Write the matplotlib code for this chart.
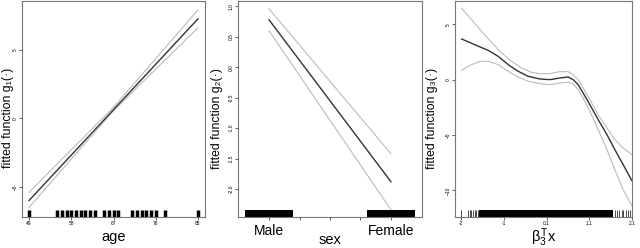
import numpy as np
import matplotlib.pyplot as plt

plt.rcParams['font.family'] = ['Liberation Sans', 'DejaVu Sans']
plt.rcParams['mathtext.fontset'] = 'custom'
plt.rcParams['mathtext.rm'] = 'Liberation Sans'
plt.rcParams['mathtext.it'] = 'Liberation Sans'

# panel 1: age
age_x = [49, 85]
age_fit = [-6.0, 7.25]
age_band_x = [49, 67, 85]
age_upper = [-5.4, 0.8, 7.9]
age_lower = [-6.5, 0.55, 6.6]
age_ticks = [49, 58, 67, 76, 85]
age_rug = [49, 55, 56, 57, 58, 59, 60, 61, 62, 63, 65, 66, 67, 68,
           71, 72, 73, 74, 75, 76, 78, 85]

# panel 2: sex (Male = 1, Female = 2)
sex_x = [1, 2]
sex_fit = [0.78, -1.88]
sex_upper = [0.96, -1.42]
sex_lower = [0.6, -2.34]
sex_ticks = [1, 1.25, 1.5, 1.75, 2]
sex_ticklabels = ['Male', '', '', '', 'Female']
sex_rug_spans = [(0.8, 1.2), (1.8, 2.2)]

# panel 3: single index beta_3^T x
idx_x = [-1.99, -1.67, -1.35, -1.11, -0.87, -0.63, -0.39, -0.11, 0.13, 0.37, 0.57,
         0.69, 0.81, 0.93, 1.09, 1.29, 1.5, 1.69, 1.89, 2.1]
idx_fit = [3.67, 3.15, 2.64, 2.1, 1.35, 0.75, 0.3, 0.06, 0.0, 0.15, 0.24,
           0.0, -0.45, -1.2, -2.25, -3.6, -4.95, -6.3, -7.66, -9.1]
idx_up_x = [-1.99, -1.75, -1.51, -1.27, -1.03, -0.79, -0.55, -0.31, -0.11, 0.13, 0.37,
            0.57, 0.69, 0.81, 0.93, 1.09, 1.29, 1.5, 1.69, 1.89, 2.1]
idx_upper = [6.45, 5.4, 4.35, 3.36, 2.4, 1.65, 1.05, 0.66, 0.54, 0.54, 0.72,
             0.72, 0.45, 0.0, -0.75, -1.8, -3.15, -4.35, -5.4, -6.15, -6.76]
idx_lo_x = [-1.99, -1.79, -1.55, -1.35, -1.11, -0.87, -0.63, -0.39, -0.11, 0.13, 0.37,
            0.57, 0.69, 0.81, 0.93, 1.09, 1.29, 1.5, 1.69, 1.89, 2.1]
idx_lower = [0.84, 1.29, 1.65, 1.65, 1.35, 0.75, 0.24, -0.15, -0.36, -0.45, -0.3,
             -0.24, -0.39, -0.9, -1.65, -2.85, -4.5, -6.3, -8.1, -9.9, -11.4]
idx_ticks = [-2, -0.975, 0.05, 1.075, 2.1]
idx_ticklabels = ['-2', '-1', '0.1', '1.1', '2.1']
idx_rug = [-2.0, -1.84, -1.8, -1.76, -1.72, -1.68, -1.64, -1.6,
           1.7, 1.75, 1.8, 1.86, 1.9, 1.95, 2.0, 2.05, 2.1]
idx_rug_span = (-1.58, 1.66)

fit_col = '#333333'
band_col = '#bbbbbb'
frame_col = '#777777'
rug_h = 0.033
lab_fs = 8.8

fig = plt.figure(figsize=(6.4, 2.48), dpi=100)
ax1 = fig.add_axes([22 / 640, 31 / 248, 183 / 640, 216 / 248])
ax2 = fig.add_axes([238 / 640, 31 / 248, 184 / 640, 216 / 248])
ax3 = fig.add_axes([455 / 640, 31 / 248, 177 / 640, 216 / 248])


def style(ax):
    for s in ax.spines.values():
        s.set_color(frame_col)
        s.set_linewidth(0.8)
    ax.tick_params(length=2, width=0.6, color='#444444', labelsize=3.5, pad=1)
    for lab in ax.get_yticklabels():
        lab.set_rotation(90)
        lab.set_va('center')


# age
ax1.plot(age_band_x, age_upper, color=band_col, lw=0.8)
ax1.plot(age_band_x, age_lower, color=band_col, lw=0.8)
ax1.plot(age_x, age_fit, color=fit_col, lw=1.0)
ax1.vlines(age_rug, 0, rug_h, transform=ax1.get_xaxis_transform(), color='black', lw=2.5)
ax1.set_xlim(47.5, 86.5)
ax1.set_ylim(-7.2, 8.55)
ax1.set_xticks(age_ticks)
ax1.set_yticks([-5, 0, 5])
ax1.set_xlabel('age', fontsize=10.5)
ax1.set_ylabel('fitted function g\u2081(\u00b7)', fontsize=lab_fs)
ax1.xaxis.set_label_coords(0.5, -0.058)
ax1.yaxis.set_label_coords(-0.043, 0.458)
style(ax1)

# sex
ax2.plot(sex_x, sex_upper, color=band_col, lw=0.8)
ax2.plot(sex_x, sex_lower, color=band_col, lw=0.8)
ax2.plot(sex_x, sex_fit, color=fit_col, lw=1.0)
for a, b in sex_rug_spans:
    ax2.axvspan(a, b, ymin=0, ymax=rug_h, color='black', lw=0)
ax2.set_xlim(0.745, 2.255)
ax2.set_ylim(-2.46, 1.09)
ax2.set_xticks(sex_ticks)
ax2.set_xticklabels(sex_ticklabels)
ax2.set_yticks([-2.0, -1.5, -1.0, -0.5, 0.0, 0.5, 1.0])
ax2.set_yticklabels(['-2.0', '-1.5', '-1.0', '-0.5', '0.0', '0.5', '1.0'])
ax2.set_xlabel('sex', fontsize=10.5)
ax2.set_ylabel('fitted function g\u2082(\u00b7)', fontsize=lab_fs)
ax2.xaxis.set_label_coords(0.5, -0.072)
ax2.yaxis.set_label_coords(-0.082, 0.458)
style(ax2)
ax2.tick_params(axis='x', labelsize=10, pad=3)

# single index
ax3.plot(idx_up_x, idx_upper, color=band_col, lw=0.8)
ax3.plot(idx_lo_x, idx_lower, color=band_col, lw=0.8)
ax3.plot(idx_x, idx_fit, color=fit_col, lw=1.0)
ax3.axvspan(idx_rug_span[0], idx_rug_span[1], ymin=0, ymax=rug_h, color='black', lw=0)
ax3.vlines(idx_rug, 0, rug_h, transform=ax3.get_xaxis_transform(), color='black', lw=0.5)
ax3.set_xlim(-2.15, 2.105)
ax3.set_ylim(-12.4, 7.1)
ax3.set_xticks(idx_ticks)
ax3.set_xticklabels(idx_ticklabels)
ax3.set_yticks([-10, -5, 0, 5])
ax3.set_xlabel(r'$\beta_3^T$x', fontsize=10.5)
ax3.set_ylabel('fitted function g\u2083(\u00b7)', fontsize=lab_fs)
ax3.xaxis.set_label_coords(0.5, -0.045)
ax3.yaxis.set_label_coords(-0.096, 0.458)
style(ax3)

fig.savefig('out.png', dpi=100)
